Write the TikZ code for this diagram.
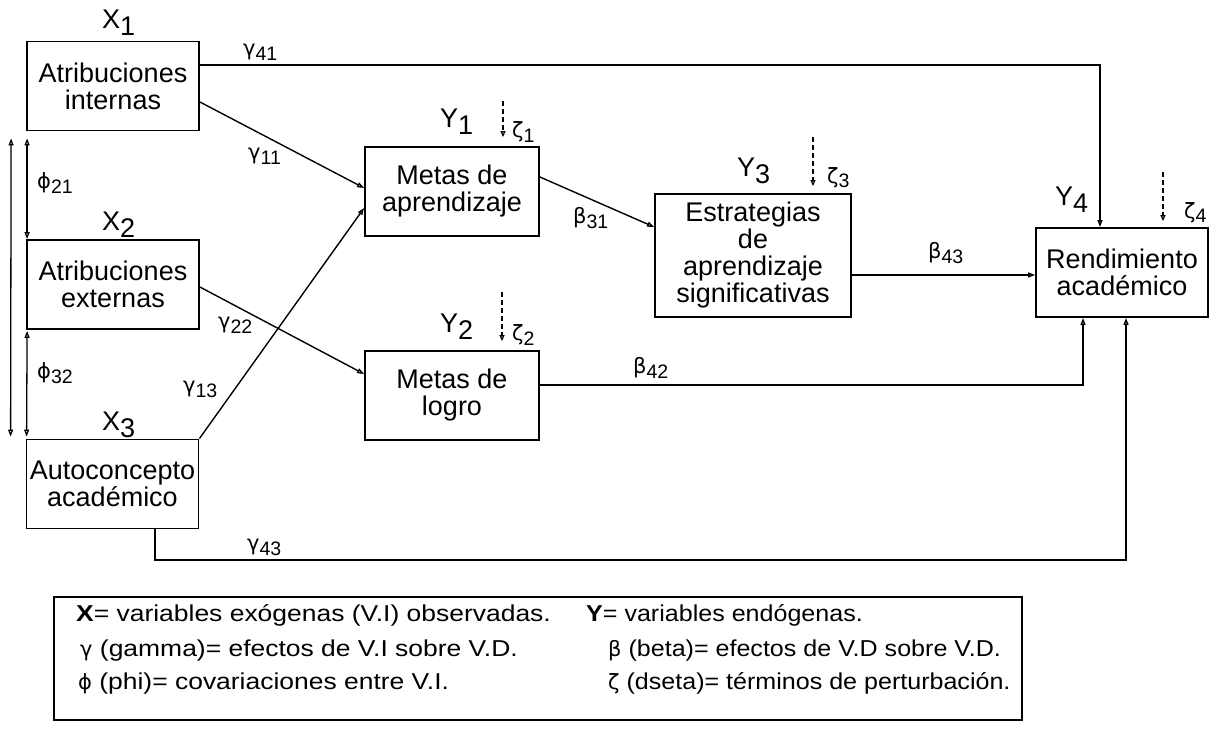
\documentclass[tikz,border=0pt]{standalone}
\usepackage{fontspec}
\setmainfont{Liberation Sans}
\newfontfamily\grk{DejaVu Sans}
\newfontfamily\legfont[FakeStretch=1.15]{Liberation Sans}
\newfontfamily\legfontb[FakeStretch=1.09]{Liberation Sans}
\usetikzlibrary{arrows.meta}
\newcommand{\boxfont}{\fontsize{27}{27}\selectfont}
\newcommand{\varlab}[2]{{\fontsize{27}{27}\selectfont #1\raisebox{-7pt}{#2}}}
\newcommand{\glab}[2]{{\fontsize{21}{21}\selectfont{\grk #1}\raisebox{-5pt}{\fontsize{19.5}{19.5}\selectfont #2}}}
\newcommand{\lgk}[1]{{\grk\fontsize{21}{21}\selectfont #1}}
\tikzset{
  vbox/.style={draw, line width=1.8pt, align=center, font=\boxfont, inner sep=0pt,
               minimum width=172pt, minimum height=89pt},
  arr/.style={line width=1.4pt, -{Triangle[open,length=7pt,width=5pt]}},
  darr/.style={line width=1.3pt, {Triangle[open,length=7pt,width=5pt]}-{Triangle[open,length=7pt,width=5pt]}},
  zarr/.style={line width=1.2pt, dash pattern=on 5pt off 3pt, -{Triangle[open,length=6pt,width=5pt]}},
  lab/.style={inner sep=0pt, anchor=base west},
  leg/.style={inner sep=0pt, anchor=base west, font=\legfont\fontsize{23}{23}\selectfont},
  legb/.style={inner sep=0pt, anchor=base west, font=\legfontb\fontsize{23}{23}\selectfont}
}
\begin{document}
\begin{tikzpicture}[x=1pt,y=-1pt]
\useasboundingbox (0,0) rectangle (1209,730);
% boxes
\node[vbox] (x1) at (113,86) {Atribuciones\\internas};
\node[vbox] (x2) at (113,284.5) {Atribuciones\\externas};
\node[vbox] (x3) at (112.5,484) {Autoconcepto\\académico};
\node[vbox, minimum width=174pt] (y1) at (452,191.5) {Metas de\\aprendizaje};
\node[vbox, minimum width=174pt] (y2) at (452,395.5) {Metas de\\logro};
\node[vbox, minimum width=196pt, minimum height=123pt] (y3) at (753,255.5) {Estrategias\\de\\aprendizaje\\significativas};
\node[vbox] (y4) at (1122,272.5) {Rendimiento\\académico};
% variable labels
\node[lab] (lx1) at (102,29) {\varlab{X}{1}};
\node[lab] (lx2) at (102,230) {\varlab{X}{2}};
\node[lab] (lx3) at (102,430) {\varlab{X}{3}};
\node[lab] (ly1) at (440,128) {\varlab{Y}{1}};
\node[lab] (ly2) at (440,332) {\varlab{Y}{2}};
\node[lab] (ly3) at (737,177) {\varlab{Y}{3}};
\node[lab] (ly4) at (1055,205) {\varlab{Y}{4}};
% connectors
\draw[arr] ([yshift=21pt]x1.east) -| ([xshift=-22pt]y4.north);
\draw[arr] ([yshift=-16pt]x1.east) -- ([yshift=3.5pt]y1.west);
\draw[arr] (x3.north east) -- ([yshift=-16.5pt]y1.west);
\draw[arr] ([yshift=-2.5pt]x2.east) -- ([yshift=21.5pt]y2.west);
\draw[arr] ([yshift=14.5pt]y1.east) -- ([yshift=28.5pt]y3.west);
\draw[arr] ([yshift=-19.5pt]y3.east) -- ([yshift=-19.5pt]y3.east -| y4.west);
\draw[arr] ([yshift=10.5pt]y2.east) -| ([xshift=-39pt]y4.south);
\coordinate (c43) at (1126,560);
\draw[arr] ([xshift=42.5pt]x3.south) |- (c43) -- ([xshift=4pt]y4.south);
% covariances
\draw[darr] ([xshift=1pt,yshift=-7pt]x1.south west) -- ([xshift=1pt]x2.north west);
\draw[darr] ([xshift=1pt,yshift=-1pt]x2.south west) -- ([xshift=1pt,yshift=2pt]x3.north west);
\draw[darr] ([xshift=-15pt,yshift=-7pt]x1.south west) -- ([xshift=-15pt,yshift=2pt]x3.north west);
% disturbances
\draw[zarr] ([xshift=51pt,yshift=45pt]y1.north) -- ([xshift=51pt,yshift=9pt]y1.north);
\draw[zarr] ([xshift=50pt,yshift=58pt]y2.north) -- ([xshift=50pt,yshift=9pt]y2.north);
\draw[zarr] ([xshift=60pt,yshift=56pt]y3.north) -- ([xshift=60pt,yshift=7pt]y3.north);
\draw[zarr] ([xshift=41pt,yshift=55pt]y4.north) -- ([xshift=41pt,yshift=6pt]y4.north);
% path labels
\node[lab] (g41) at (243,56) {\glab{γ}{41}};
\node[lab] (g11) at (248,160) {\glab{γ}{11}};
\node[lab] (g22) at (218,328) {\glab{γ}{22}};
\node[lab] (g13) at (183,392) {\glab{γ}{13}};
\node[lab] (g43) at (247,550) {\glab{γ}{43}};
\node[lab] (b31) at (573,223) {\glab{β}{31}};
\node[lab] (b43) at (928,258) {\glab{β}{43}};
\node[lab] (b42) at (633,373) {\glab{β}{42}};
\node[lab] (p21) at (37,189) {\glab{ϕ}{21}};
\node[lab] (p32) at (37,378) {\glab{ϕ}{32}};
\node[lab] (z1) at (512,138) {\glab{ζ}{1}};
\node[lab] (z2) at (512,340) {\glab{ζ}{2}};
\node[lab] (z3) at (827,183) {\glab{ζ}{3}};
\node[lab] (z4) at (1184,218) {\glab{ζ}{4}};
% legend
\node[draw, line width=1.5pt, minimum width=968pt, minimum height=123pt, inner sep=0pt] (legend) at (538,658.5) {};
\node[leg] (l1) at (76,621) {\textbf{X}= variables exógenas (V.I) observadas.};
\node[legb] (l2) at (586,621) {\textbf{Y}= variables endógenas.};
\node[leg] (l3) at (80,656) {\lgk{γ} (gamma)= efectos de V.I sobre V.D.};
\node[legb] (l4) at (608,656) {\lgk{β} (beta)= efectos de V.D sobre V.D.};
\node[leg] (l5) at (78,689) {\lgk{ϕ} (phi)= covariaciones entre V.I.};
\node[legb] (l6) at (608,689) {\lgk{ζ} (dseta)= términos de perturbación.};
\end{tikzpicture}
\end{document}
